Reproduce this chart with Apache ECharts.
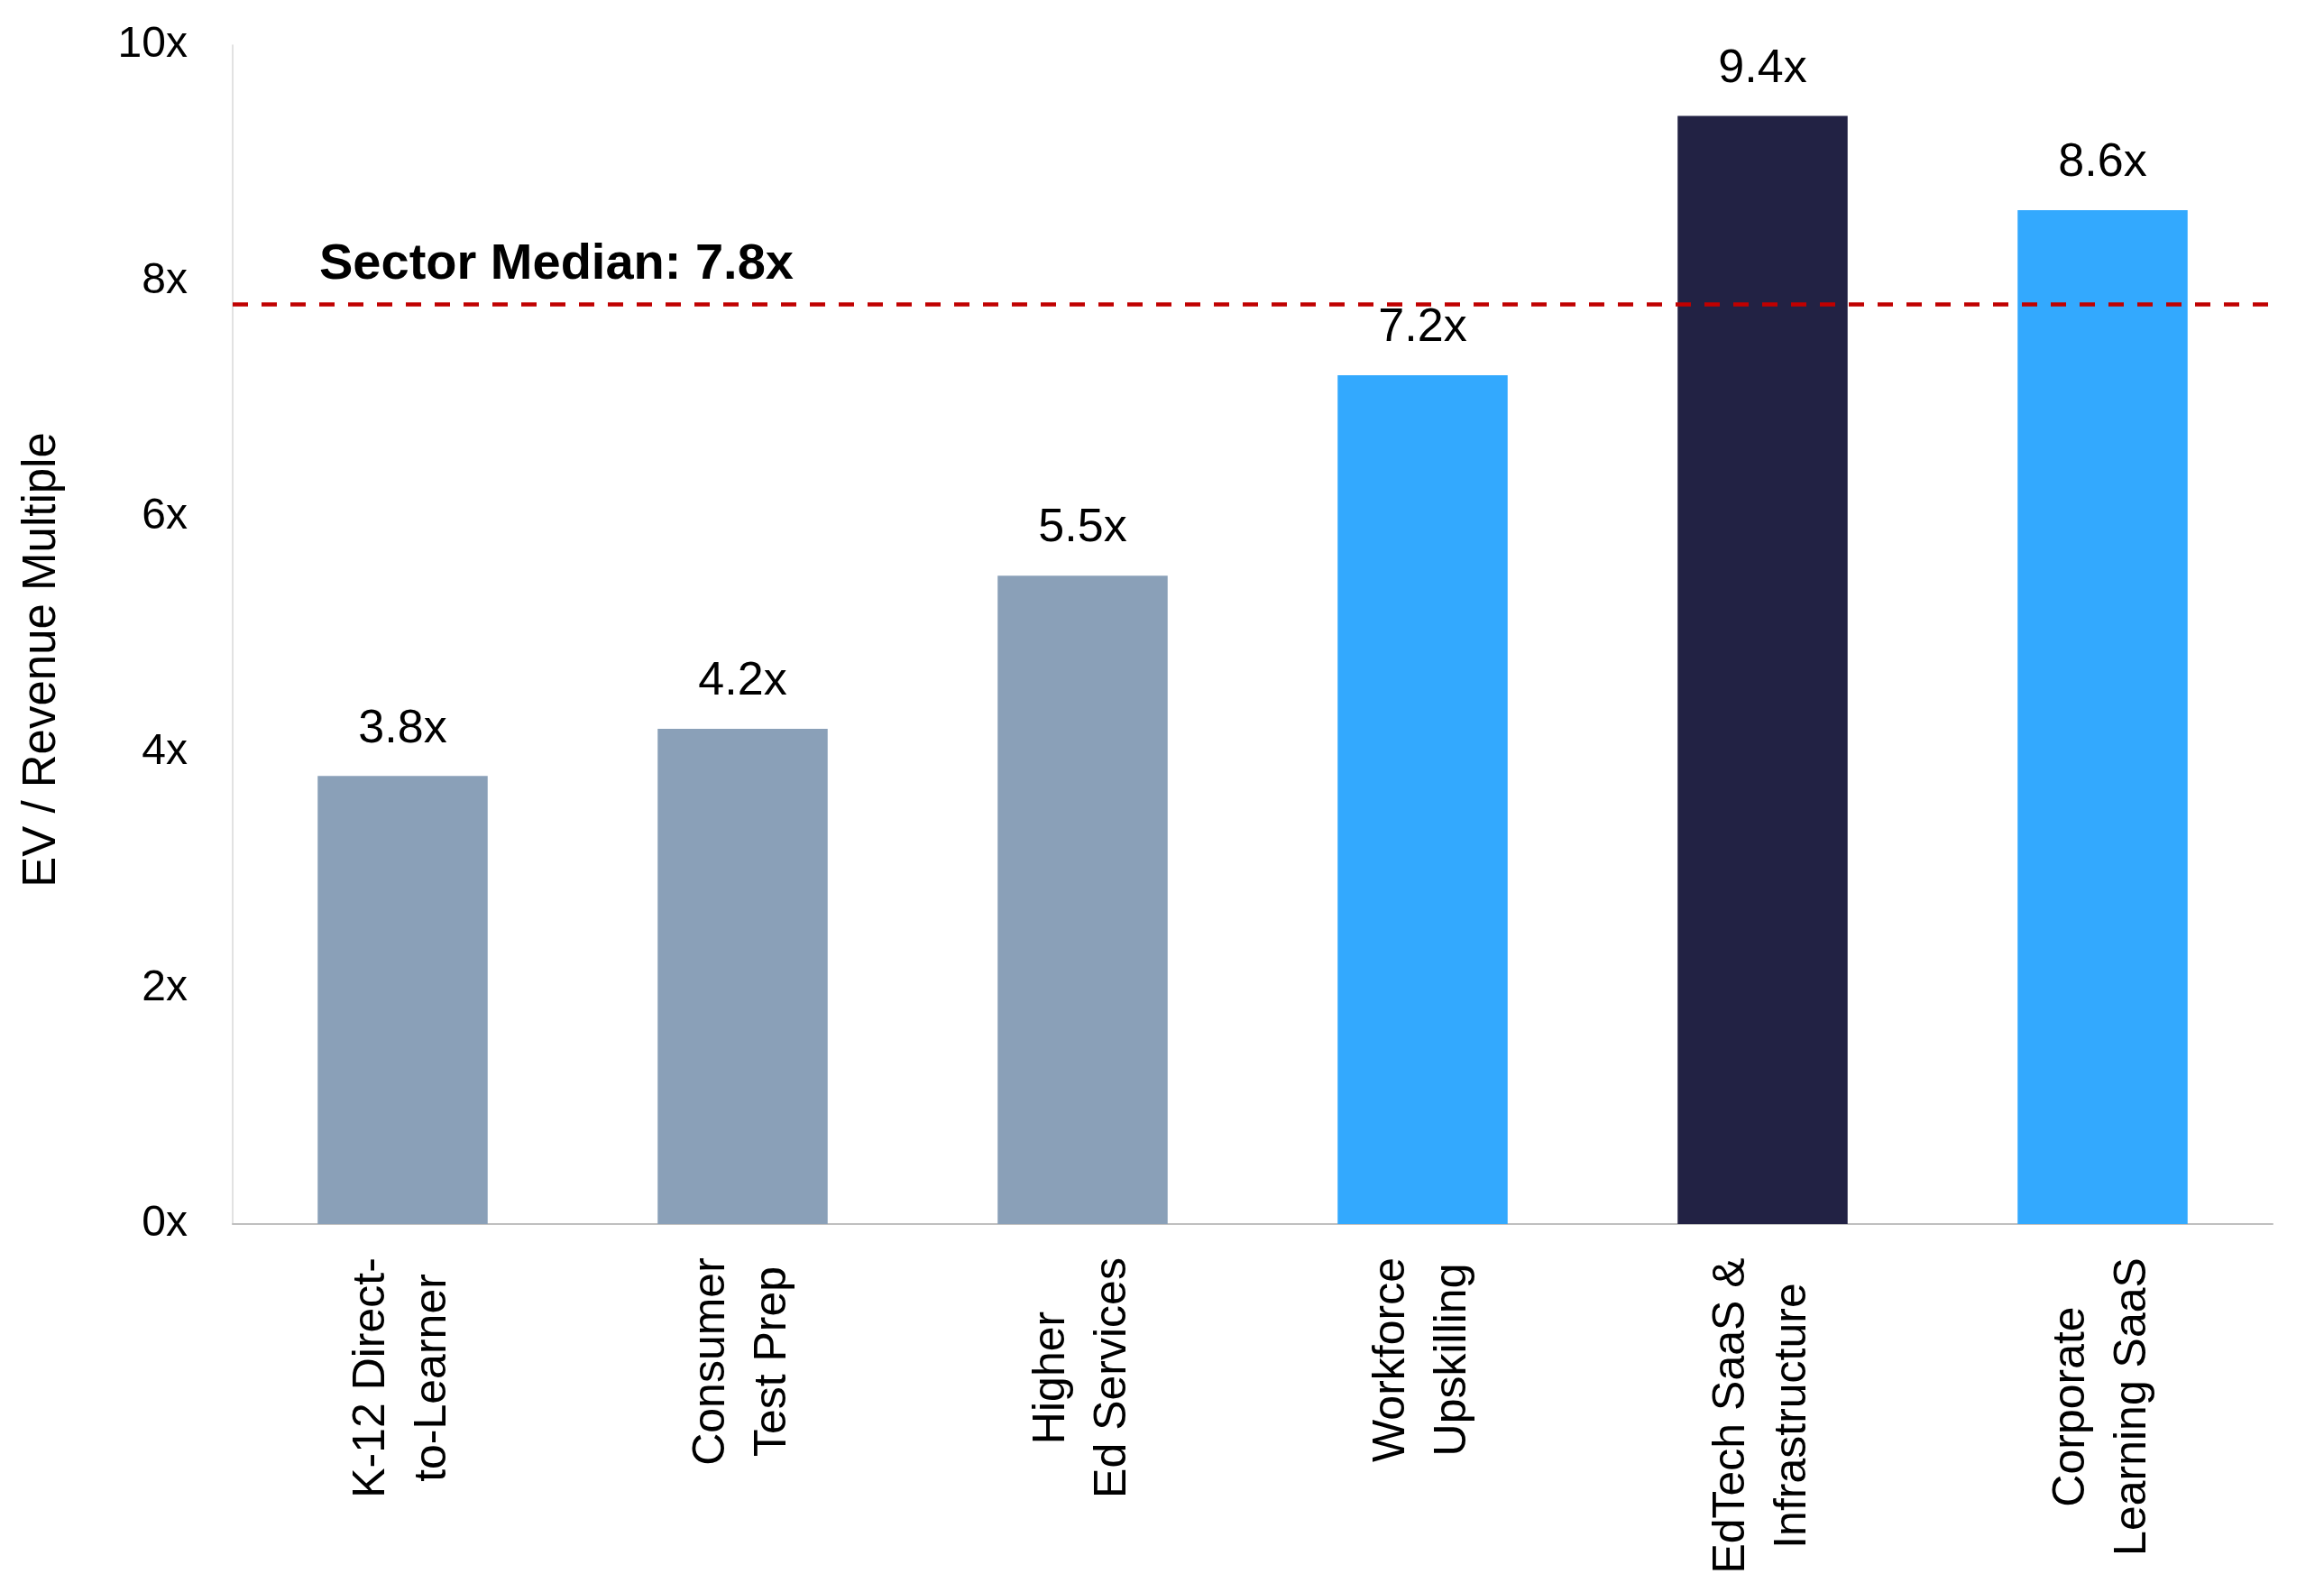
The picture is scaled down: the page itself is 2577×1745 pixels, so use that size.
<!DOCTYPE html>
<html>
<head>
    <meta charset="utf-8">
    <script src="https://cdn.jsdelivr.net/npm/echarts@6/dist/echarts.min.js"></script>
    <style>
        html, body { margin: 0; padding: 0; background: #fff; }
        #main { width: 2577px; height: 1745px; }
    </style>
</head>
<body>
<div id="main"></div>
<script type="text/javascript">
    // categories, one array per label line
    var categories = [
        ['K-12 Direct-', 'to-Learner'],
        ['Consumer', 'Test Prep'],
        ['Higher', 'Ed Services'],
        ['Workforce', 'Upskilling'],
        ['EdTech SaaS &', 'Infrastructure'],
        ['Corporate', 'Learning SaaS']
    ];
    var multiples = [3.8, 4.2, 5.5, 7.2, 9.4, 8.6];
    var sectorMedian = 7.8;
    var yTicks = [0, 2, 4, 6, 8, 10];

    var barColors = ['#8AA0B8', '#8AA0B8', '#8AA0B8', '#33A9FE', '#222244', '#33A9FE'];

    var font = '"Liberation Sans", Arial, sans-serif';
    var catFontSize = 50;

    // measure each label block so the lines can be centred inside it
    var ctx = document.createElement('canvas').getContext('2d');
    ctx.font = catFontSize + 'px ' + font;
    var rich = {};
    categories.forEach(function (lines, i) {
        var w = 0;
        lines.forEach(function (l) { w = Math.max(w, ctx.measureText(l).width); });
        rich['c' + i] = {
            width: Math.ceil(w) + 2,
            align: 'center',
            fontSize: catFontSize,
            fontFamily: font,
            lineHeight: 68,
            color: '#000'
        };
    });

    var myChart = echarts.init(document.getElementById('main'));

    myChart.setOption({
        animation: false,
        grid: {
            left: 258, right: 57, top: 50, bottom: 388,
            containLabel: false,
            outerBoundsMode: 'none'
        },
        xAxis: {
            type: 'category',
            data: categories.map(function (c) { return c.join('\n'); }),
            axisLine: { show: true, lineStyle: { color: '#BFBFBF', width: 2 } },
            axisTick: { show: false },
            axisLabel: {
                interval: 0,
                rotate: 90,
                margin: 36,
                formatter: function (v, i) {
                    return categories[i].map(function (l) { return '{c' + i + '|' + l + '}'; }).join('\n');
                },
                rich: rich
            }
        },
        yAxis: {
            type: 'value',
            min: yTicks[0],
            max: yTicks[yTicks.length - 1],
            interval: 2,
            name: 'EV / Revenue Multiple',
            nameLocation: 'middle',
            nameRotate: 90,
            nameGap: 186,
            nameTextStyle: { fontSize: 51, fontFamily: font, color: '#000', padding: [0, 56, 0, 0] },
            axisLine: { show: true, lineStyle: { color: '#D9D9D9', width: 1.5 } },
            axisTick: { show: false },
            splitLine: { show: false },
            axisLabel: {
                margin: 50,
                fontSize: 48,
                fontFamily: font,
                color: '#000',
                formatter: '{value}x'
            }
        },
        series: [{
            type: 'bar',
            barWidth: '50%',
            data: multiples.map(function (v, i) {
                return { value: v, itemStyle: { color: barColors[i] } };
            }),
            label: {
                show: true,
                position: 'top',
                distance: 26,
                fontSize: 52,
                fontFamily: font,
                color: '#000',
                formatter: function (p) { return p.value.toFixed(1) + 'x'; }
            },
            markLine: {
                silent: true,
                symbol: 'none',
                lineStyle: { color: '#C00000', width: 4.5, type: [17, 15] },
                label: {
                    show: true,
                    position: 'insideStartTop',
                    distance: [96, 16],
                    formatter: 'Sector Median: ' + sectorMedian.toFixed(1) + 'x',
                    fontSize: 56,
                    fontWeight: 'bold',
                    fontFamily: font,
                    color: '#000'
                },
                data: [{ yAxis: sectorMedian }]
            }
        }]
    });
</script>
</body>
</html>
